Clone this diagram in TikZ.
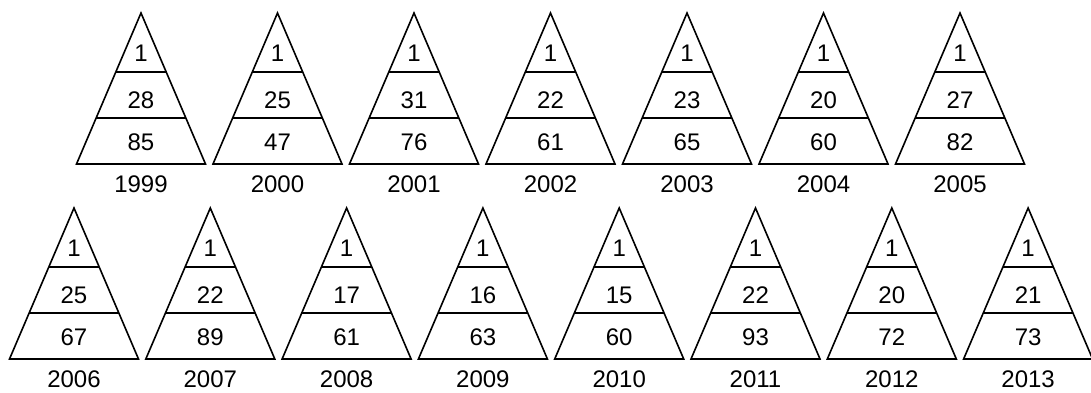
\documentclass[tikz,border=0pt]{standalone}
\usepackage{fontspec}
\setmainfont{Liberation Sans}
\begin{document}
\begin{tikzpicture}[x=1pt,y=-1pt,
  tri/.style={line width=1.6pt, line join=miter},
  num/.style={font=\fontsize{24}{26}\selectfont, inner sep=0pt, anchor=center}]
\useasboundingbox (0,0) rectangle (1091,392);
\newcommand\mypyr[6]{%
  \draw[tri] (#1,#2) -- (#1+64.5,#2+151) -- (#1-64.5,#2+151) -- cycle;
  \draw[tri] (#1-25.2,#2+59) -- (#1+25.2,#2+59);
  \draw[tri] (#1-44.85,#2+105) -- (#1+44.85,#2+105);
  \node[num] (a#6) at (#1,#2+40) {#3};
  \node[num] (b#6) at (#1,#2+87) {#4};
  \node[num] (c#6) at (#1,#2+129) {#5};
  \node[num] (y#6) at (#1,#2+171) {#6};
}
\mypyr{141}{13}{1}{28}{85}{1999}
\mypyr{277.5}{13}{1}{25}{47}{2000}
\mypyr{414}{13}{1}{31}{76}{2001}
\mypyr{550.5}{13}{1}{22}{61}{2002}
\mypyr{687}{13}{1}{23}{65}{2003}
\mypyr{823.5}{13}{1}{20}{60}{2004}
\mypyr{960}{13}{1}{27}{82}{2005}
\mypyr{74}{208}{1}{25}{67}{2006}
\mypyr{210.3}{208}{1}{22}{89}{2007}
\mypyr{346.6}{208}{1}{17}{61}{2008}
\mypyr{482.9}{208}{1}{16}{63}{2009}
\mypyr{619.2}{208}{1}{15}{60}{2010}
\mypyr{755.5}{208}{1}{22}{93}{2011}
\mypyr{891.8}{208}{1}{20}{72}{2012}
\mypyr{1028.1}{208}{1}{21}{73}{2013}
\end{tikzpicture}
\end{document}
